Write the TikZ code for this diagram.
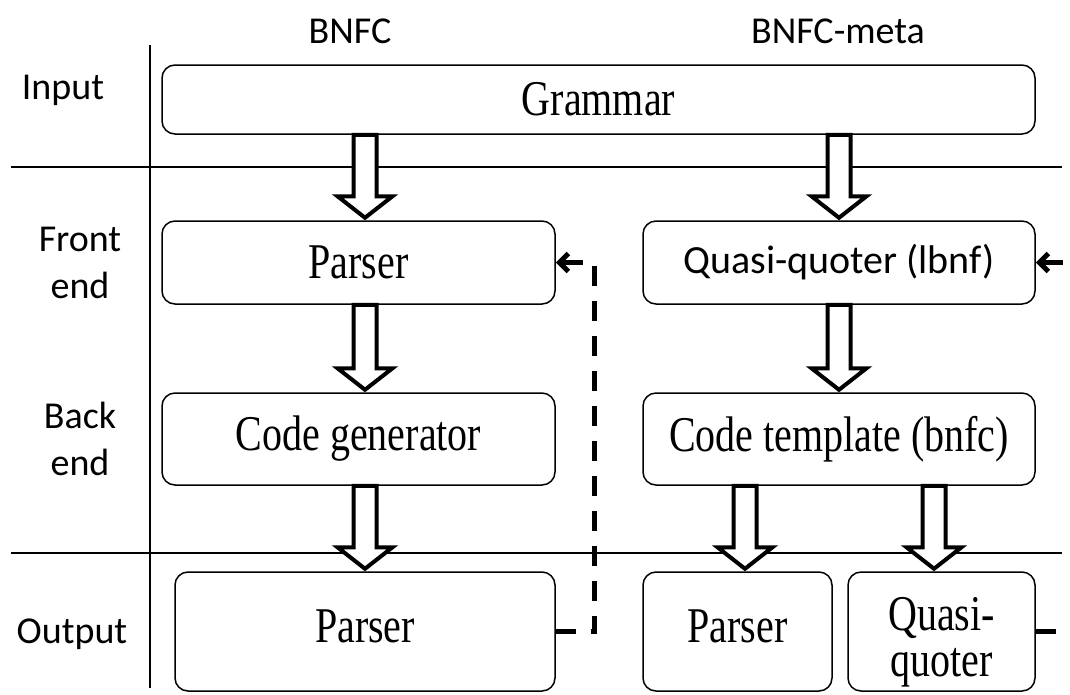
\documentclass[tikz,border=0pt]{standalone}
\usepackage{fontspec}
\usepackage{graphicx}
\setmainfont{Liberation Serif}
\newfontfamily\calibrifam{Carlito}
\usetikzlibrary{calc,arrows.meta}

% serif box text, set tall and narrow
\newcommand\sertext[1]{\scalebox{1}[1.25]{\fontsize{40}{37}\selectfont #1}}

\tikzset{
  box/.style={draw, line width=1.5pt, rounded corners=13pt, fill=white,
    inner sep=0pt, align=center},
  boxtext/.style={inner sep=0pt, align=center},
  lbl/.style={font=\calibrifam\fontsize{38}{47}\selectfont, align=center, inner sep=0pt},
  gridline/.style={line width=2.5pt},
  blockarr/.style={draw=black, line width=4pt, fill=white, miter limit=10,
    to path={let \p1=(\tikztostart), \p2=(\tikztotarget) in
      (\x1-11.5pt,\y1) -- (\x1-11.5pt,\y2+24pt) -- (\x1-27.5pt,\y2+24pt)
      -- (\x1,\y2+2.5pt) -- (\x1+27.5pt,\y2+24pt) -- (\x1+11.5pt,\y2+24pt)
      -- (\x1+11.5pt,\y1) -- cycle}},
  feedback/.style={line width=5pt, dash pattern=on 20pt off 15pt,
    -{Straight Barb[length=9pt,width=18pt]}}
}

\begin{document}
\begin{tikzpicture}[x=1pt,y=-1pt]
\useasboundingbox (0,0) rectangle (1070,694);
\clip (0,0) rectangle (1070,694);

% table rules
\draw[gridline] (150,45) -- (150,688);
\draw[gridline] (11,167) -- (1062,167);
\draw[gridline] (11,553) -- (1062,553);

% column and row headings
\node[lbl, anchor=base] (hbnfc) at (350,43) {BNFC};
\node[lbl, anchor=base] (hmeta) at (838,43) {BNFC-meta};
\node[lbl, anchor=base] (rinput) at (63,99) {Input};
\node[lbl] (rfront) at (80,262.5) {Front\\end};
\node[lbl] (rback) at (80,439) {Back\\end};
\node[lbl, anchor=base] (routput) at (72,643) {Output};

% stages
\node[box, minimum width=873pt, minimum height=69pt] (grammar) at (598.5,99.5) {\sertext{Grammar}};
\node[box, minimum width=393pt, minimum height=83pt] (parser) at (358.5,262.5) {\sertext{Parser}};
\node[box, minimum width=392pt, minimum height=83pt] (qq) at (839,262.5)
  {\calibrifam\fontsize{40}{48}\selectfont Quasi-quoter (lbnf)};
\node[box, minimum width=393pt, minimum height=92pt] (codegen) at (358.5,439) {\sertext{Code generator}};
\node[box, minimum width=392pt, minimum height=92pt] (codetpl) at (839,439) {\sertext{Code template (bnfc)}};
\node[box, minimum width=380pt, minimum height=119pt] (outparser) at (365,631.5) {};
\node[box, minimum width=189pt, minimum height=119pt] (outparser2) at (737.5,631.5) {};
\node[box, minimum width=187pt, minimum height=119pt] (outqq) at (941.5,631.5) {};
\node[boxtext] (outparsertxt) at (365,626.5) {\sertext{Parser}};
\node[boxtext] (outparser2txt) at (737.5,626.5) {\sertext{Parser}};
\node[boxtext] (outqqtxt) at (941.5,644) {\sertext{\begin{tabular}{@{}c@{}}Quasi-\\quoter\end{tabular}}};

% arrow axes
\coordinate (axL) at (365,0);
\coordinate (axR) at (839,0);
\coordinate (axR1) at (745,0);
\coordinate (axR2) at (934,0);

% block arrows
\draw[blockarr] (grammar.south -| axL) to (parser.north -| axL);
\draw[blockarr] (grammar.south -| axR) to (qq.north -| axR);
\draw[blockarr] (parser.south -| axL) to (codegen.north -| axL);
\draw[blockarr] (qq.south -| axR) to (codetpl.north -| axR);
\draw[blockarr] (codegen.south -| axL) to (outparser.north -| axL);
\draw[blockarr] (codetpl.south -| axR1) to (outparser2.north -| axR1);
\draw[blockarr] (codetpl.south -| axR2) to (outqq.north -| axR2);

% feedback of the generated parsers
\draw[feedback] (outparser.east) -- ++(39,0) |- (parser.east);
\draw[feedback] (outqq.east) -- ++(39,0) |- (qq.east);
\end{tikzpicture}
\end{document}
